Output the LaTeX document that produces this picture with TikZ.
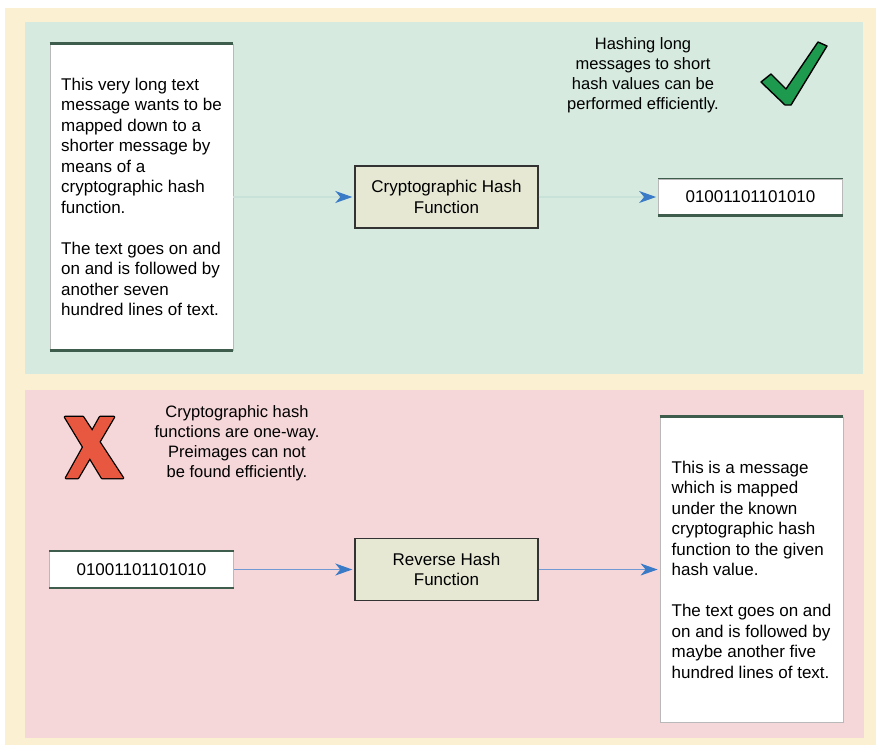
\documentclass[tikz,border=0pt]{standalone}
\usepackage{fontspec}
\setmainfont{Liberation Sans}
\usetikzlibrary{shapes,arrows.meta}

\definecolor{creambg}{HTML}{FCF0D3}
\definecolor{goodbg}{HTML}{D6EADF}
\definecolor{badbg}{HTML}{F5D6D9}
\definecolor{funcfill}{HTML}{E6E8D4}
\definecolor{flowblue}{HTML}{3A7BC8}
\definecolor{lineblue}{HTML}{7199D4}
\definecolor{faintline}{HTML}{C9E2D9}
\definecolor{edgedark}{HTML}{3F5D4D}
\definecolor{tickgreen}{HTML}{1E9A4E}
\definecolor{crossred}{HTML}{E8573F}

\tikzset{
	txt/.style={font=\fontsize{17}{20.5}\selectfont},
	note/.style={font=\fontsize{16.5}{20}\selectfont, align=center},
	msgbox/.style={txt, draw=gray!55, line width=0.8pt, fill=white, minimum width=183pt, inner sep=0pt, align=left, minimum height=#1},
	valbox/.style={txt, draw=gray!55, line width=0.8pt, fill=white, minimum width=184pt, minimum height=36pt, inner sep=0pt},
	fnbox/.style={txt, draw=black!80, line width=1.4pt, fill=funcfill, minimum width=183pt, minimum height=62pt, align=center, inner sep=0pt},
	edgeline/.style={edgedark, line width=2.5pt},
	flow/.style={lineblue, line width=1.1pt, shorten >=2pt, -{Stealth[length=17pt,width=12pt,inset=5pt,flowblue]}},
	faintflow/.style={flow, faintline}
}

\begin{document}
\begin{tikzpicture}[x=1pt,y=-1pt]
	\useasboundingbox (0,0) rectangle (877,748);
	\fill[creambg] (5,8) rectangle (876,745);
	\fill[goodbg] (25,22) rectangle (863,374);
	\fill[badbg] (25,390) rectangle (864,738);

	\node[msgbox=306pt] (longmsg) at (141.5,197) {This very long text\\message wants to be\\mapped down to a\\shorter message by\\means of a\\cryptographic hash\\function.\\[20.5pt]The text goes on and\\on and is followed by\\another seven\\hundred lines of text.};
	\node[fnbox] (hashfn) at (446.5,197) {Cryptographic Hash\\Function};
	\node[valbox] (hashval) at (750.5,197) {01001101101010};
	\node[note] (goodnote) at (643,75) {Hashing long\\messages to short\\hash values can be\\performed efficiently.};

	\draw[edgeline] (longmsg.north west) -- (longmsg.north east);
	\draw[edgeline] (longmsg.south west) -- (longmsg.south east);
	\draw[edgeline, line width=1.6pt] (hashval.north west) -- (hashval.north east);
	\draw[edgeline] (hashval.south west) -- (hashval.south east);

	\draw[faintflow] (longmsg) -- (hashfn);
	\draw[faintflow] (hashfn) -- (hashval);

	\node[valbox] (preval) at (141.5,569.5) {01001101101010};
	\node[fnbox] (revfn) at (446.5,569.5) {Reverse Hash\\Function};
	\node[msgbox=305pt] (premsg) at (751.5,569.5) {This is a message\\which is mapped\\under the known\\cryptographic hash\\function to the given\\hash value.\\[20.5pt]The text goes on and\\on and is followed by\\maybe another five\\hundred lines of text.};
	\node[note] (badnote) at (237,443) {Cryptographic hash\\functions are one-way.\\Preimages can not\\be found efficiently.};

	\draw[edgeline, line width=1.6pt] (preval.north west) -- (preval.north east);
	\draw[edgeline] (preval.south west) -- (preval.south east);
	\draw[edgeline] (premsg.north west) -- (premsg.north east);

	\draw[flow] (preval) -- (revfn);
	\draw[flow] (revfn) -- (premsg);

	\filldraw[fill=tickgreen, draw=black, line width=1.4pt, line join=round] (761,82) -- (771,74) -- (786,89) -- (818,42) -- (827,46) -- (791,105) -- (785,105) -- cycle;

	\draw[black, line width=2.6pt, line join=round] (65,417) -- (83,417) -- (123,478) -- (102,478) -- cycle;
	\draw[black, line width=2.6pt, line join=round] (100,417) -- (114,417) -- (78,478) -- (66,478) -- cycle;
	\fill[crossred] (65,417) -- (83,417) -- (123,478) -- (102,478) -- cycle;
	\fill[crossred] (100,417) -- (114,417) -- (78,478) -- (66,478) -- cycle;
\end{tikzpicture}
\end{document}
